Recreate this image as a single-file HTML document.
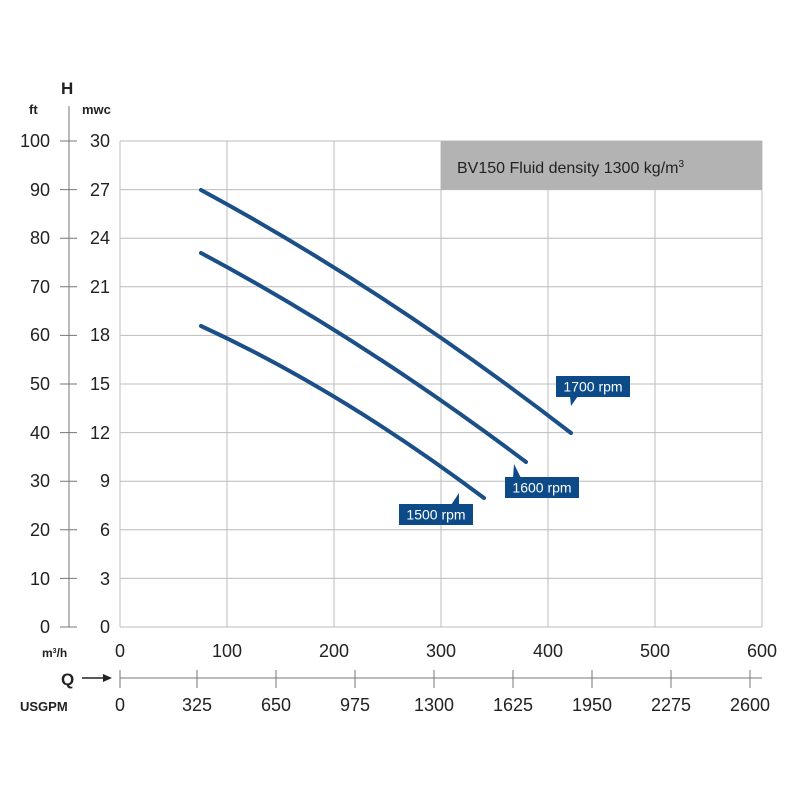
<!DOCTYPE html><html><head><style>body{margin:0;background:#fff}svg{font-family:"Liberation Sans",sans-serif}</style></head><body>
<svg width="800" height="800" viewBox="0 0 800 800">
<rect width="800" height="800" fill="#fff"/>
<g stroke="#bcbcbc" stroke-width="1">
<line x1="120" y1="141" x2="762" y2="141"/><line x1="120" y1="189.6" x2="762" y2="189.6"/><line x1="120" y1="238.2" x2="762" y2="238.2"/><line x1="120" y1="286.8" x2="762" y2="286.8"/><line x1="120" y1="335.4" x2="762" y2="335.4"/><line x1="120" y1="384" x2="762" y2="384"/><line x1="120" y1="432.6" x2="762" y2="432.6"/><line x1="120" y1="481.2" x2="762" y2="481.2"/><line x1="120" y1="529.8" x2="762" y2="529.8"/><line x1="120" y1="578.4" x2="762" y2="578.4"/><line x1="120" y1="627" x2="762" y2="627"/>
<line x1="120" y1="141" x2="120" y2="627"/><line x1="227" y1="141" x2="227" y2="627"/><line x1="334" y1="141" x2="334" y2="627"/><line x1="441" y1="141" x2="441" y2="627"/><line x1="548" y1="141" x2="548" y2="627"/><line x1="655" y1="141" x2="655" y2="627"/><line x1="762" y1="141" x2="762" y2="627"/>
</g>
<rect x="441" y="141" width="321" height="48.6" fill="#b3b3b3"/>
<text x="457" y="173" font-size="16" fill="#222">BV150 Fluid density 1300 kg/m<tspan font-size="10" dy="-6">3</tspan></text>
<g stroke="#777" stroke-width="1">
<line x1="69" y1="106" x2="69" y2="627"/>
<line x1="60" y1="141" x2="77" y2="141"/><line x1="60" y1="189.6" x2="77" y2="189.6"/><line x1="60" y1="238.2" x2="77" y2="238.2"/><line x1="60" y1="286.8" x2="77" y2="286.8"/><line x1="60" y1="335.4" x2="77" y2="335.4"/><line x1="60" y1="384" x2="77" y2="384"/><line x1="60" y1="432.6" x2="77" y2="432.6"/><line x1="60" y1="481.2" x2="77" y2="481.2"/><line x1="60" y1="529.8" x2="77" y2="529.8"/><line x1="60" y1="578.4" x2="77" y2="578.4"/><line x1="60" y1="627" x2="77" y2="627"/>
<line x1="120" y1="678" x2="762" y2="678"/>
<line x1="120" y1="670" x2="120" y2="688"/><line x1="197" y1="670" x2="197" y2="688"/><line x1="276" y1="670" x2="276" y2="688"/><line x1="355" y1="670" x2="355" y2="688"/><line x1="434" y1="670" x2="434" y2="688"/><line x1="513" y1="670" x2="513" y2="688"/><line x1="592" y1="670" x2="592" y2="688"/><line x1="671" y1="670" x2="671" y2="688"/><line x1="750" y1="670" x2="750" y2="688"/>
</g>
<g font-size="18" fill="#222" text-anchor="end">
<text x="50" y="147">100</text><text x="50" y="196">90</text><text x="50" y="244">80</text><text x="50" y="293">70</text><text x="50" y="341">60</text><text x="50" y="390">50</text><text x="50" y="439">40</text><text x="50" y="487">30</text><text x="50" y="536">20</text><text x="50" y="585">10</text><text x="50" y="633">0</text>
<text x="110" y="147">30</text><text x="110" y="196">27</text><text x="110" y="244">24</text><text x="110" y="293">21</text><text x="110" y="341">18</text><text x="110" y="390">15</text><text x="110" y="439">12</text><text x="110" y="487">9</text><text x="110" y="536">6</text><text x="110" y="585">3</text><text x="110" y="633">0</text>
</g>
<g font-size="18" fill="#222" text-anchor="middle">
<text x="120" y="657">0</text><text x="227" y="657">100</text><text x="334" y="657">200</text><text x="441" y="657">300</text><text x="548" y="657">400</text><text x="655" y="657">500</text><text x="762" y="657">600</text>
<text x="120" y="711">0</text><text x="197" y="711">325</text><text x="276" y="711">650</text><text x="355" y="711">975</text><text x="434" y="711">1300</text><text x="513" y="711">1625</text><text x="592" y="711">1950</text><text x="671" y="711">2275</text><text x="750" y="711">2600</text>
</g>
<g font-weight="bold" fill="#222">
<text x="61" y="94" font-size="17">H</text>
<text x="29" y="114" font-size="13">ft</text>
<text x="82" y="114" font-size="13">mwc</text>
<text x="42" y="657" font-size="12">m<tspan font-size="7" dy="-4">3</tspan><tspan dy="4">/h</tspan></text>
<text x="61" y="685" font-size="17">Q</text>
<text x="20" y="711" font-size="13">USGPM</text>
</g>
<line x1="82" y1="678" x2="104" y2="678" stroke="#222" stroke-width="1.5"/>
<polygon points="112,678 103,674 103,682" fill="#222"/>
<g stroke="#1a4f87" stroke-width="4" fill="none" stroke-linecap="round">
<path d="M201,190 Q386,290 571,433"/>
<path d="M201,253 Q364,340 526,462"/>
<path d="M201,326 Q340,390 484,498"/>
</g>
<g fill="#0d4a88">
<rect x="556" y="376" width="74" height="21"/><polygon points="570,396 578,396 571,406"/>
<rect x="505" y="477" width="74" height="21"/><polygon points="513,478 521,478 514,464"/>
<rect x="399" y="504" width="74" height="21"/><polygon points="451,505 459,505 459,493"/>
</g>
<g fill="#fff" font-size="14" text-anchor="middle">
<text x="593" y="391.5">1700 rpm</text><text x="542" y="492.5">1600 rpm</text><text x="436" y="519.5">1500 rpm</text>
</g>
</svg></body></html>
